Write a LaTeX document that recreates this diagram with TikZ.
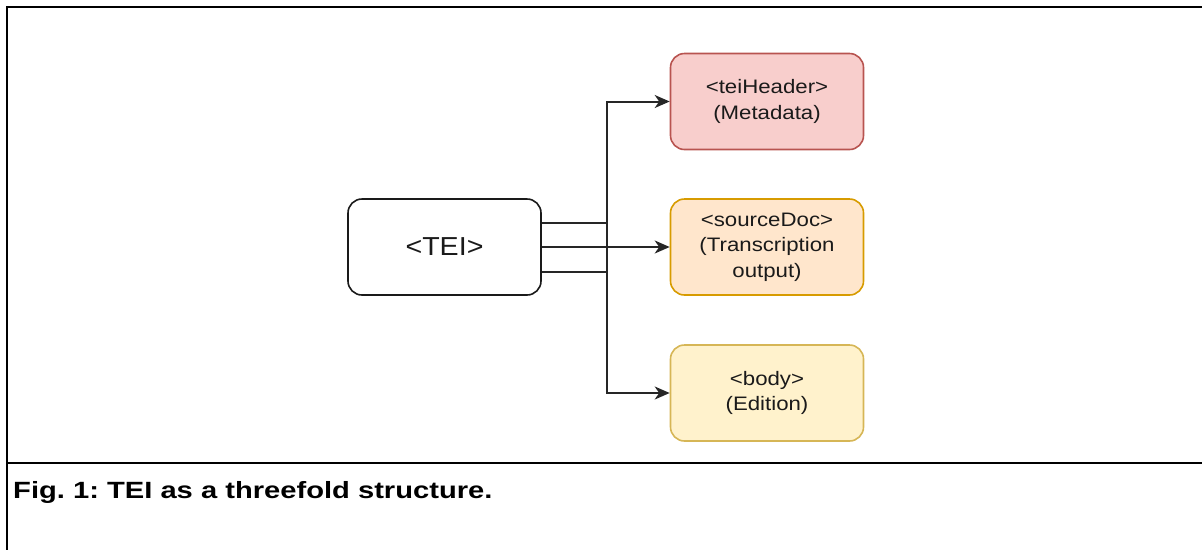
\documentclass[tikz,border=0pt]{standalone}
\usepackage{fontspec}
\setmainfont{Liberation Sans}
\newfontfamily\boxfont[FakeStretch=1.14]{Liberation Sans}
\newfontfamily\teifont[FakeStretch=1.1]{Liberation Sans}
\newfontfamily\capfont[FakeStretch=1.24]{Liberation Sans}
\usetikzlibrary{arrows.meta}
\definecolor{redfill}{HTML}{F8CECC}
\definecolor{redline}{HTML}{B85450}
\definecolor{orangefill}{HTML}{FFE6CC}
\definecolor{orangeline}{HTML}{D79B00}
\definecolor{yellowfill}{HTML}{FFF2CC}
\definecolor{yellowline}{HTML}{D6B656}
\definecolor{ink}{HTML}{1A1A1A}
\definecolor{wire}{HTML}{262626}
\tikzset{
  x=1pt, y=-1pt,
  box/.style={draw, rounded corners=14pt, line width=1.6pt, minimum width=193pt,
    minimum height=96pt, align=center, text=ink, inner sep=0pt},
  tagtext/.style={font=\boxfont\fontsize{19.5}{25.5}\selectfont},
  link/.style={draw=wire, line width=2pt, -{Stealth[length=15pt,width=13pt,inset=4.5pt]}},
  frameline/.style={draw=black, line width=2.6pt}
}
\begin{document}
\frenchspacing
\begin{tikzpicture}
\useasboundingbox (0,0) rectangle (1202,550);
% outer frame and caption separator
\draw[frameline] (1202,7) -- (7,7) -- (7,550);
\draw[frameline] (7,463) -- (1202,463);

% nodes
\node[box, draw=ink, font=\teifont\fontsize{26}{30}\selectfont] (tei) at (444.5,247) {<TEI>};
\node[box, tagtext, fill=redfill, draw=redline] (hdr) at (767,101.5) {<teiHeader>\\(Metadata)};
\node[box, tagtext, fill=orangefill, draw=orangeline] (src) at (767,247) {<sourceDoc>\\(Transcription\\output)};
\node[box, tagtext, fill=yellowfill, draw=yellowline] (bdy) at (767,393) {<body>\\(Edition)};

% connectors
\coordinate (turnx) at (606.5,0);
\draw[link] ([yshift=-24.5pt]tei.east) -| (turnx |- hdr.west) -- (hdr.west);
\draw[link] (tei.east) -- (src.west);
\draw[link] ([yshift=24.5pt]tei.east) -| (turnx |- bdy.west) -- (bdy.west);

% caption
\node[anchor=base west, font=\capfont\bfseries\fontsize{23.5}{27}\selectfont, inner sep=0pt] (cap) at (13,498) {Fig. 1: TEI as a threefold structure.};
\end{tikzpicture}
\end{document}
